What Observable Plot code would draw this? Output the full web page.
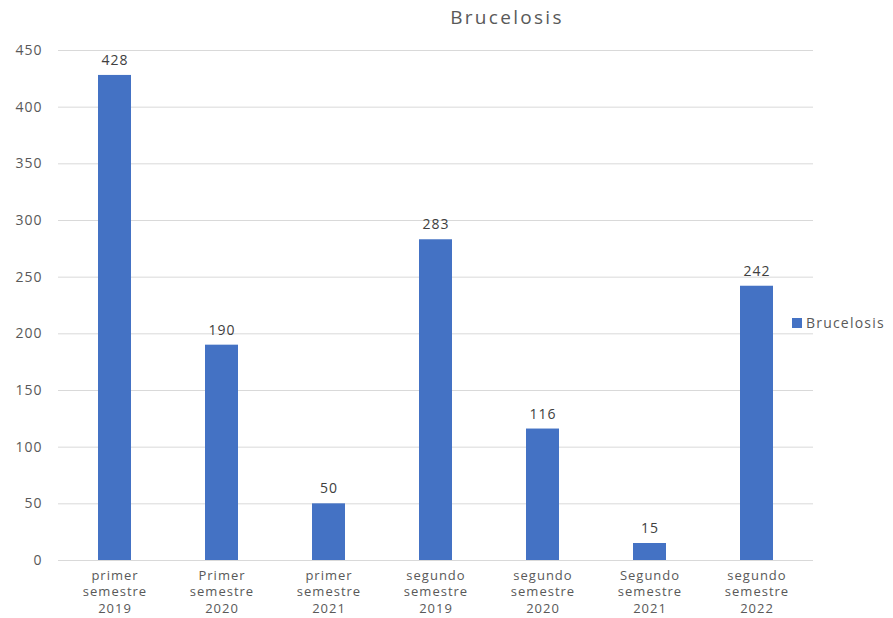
<!DOCTYPE html>
<html>
<head>
<meta charset="utf-8">
<script src="https://cdn.jsdelivr.net/npm/d3@7"></script>
<script src="https://cdn.jsdelivr.net/npm/@observablehq/plot@0.6"></script>
<style>
  html, body { margin: 0; padding: 0; background: #fff; }
  #wrap { position: relative; width: 893px; height: 618px; font-family: "Open Sans", sans-serif; }
  #title { position: absolute; left: 0; top: 4px; width: 1014px; text-align: center; font-size: 19px; color: #595959; letter-spacing: 2.3px; }
  #legend { position: absolute; left: 792px; top: 313px; font-size: 14px; color: #595959; display: flex; align-items: center; letter-spacing: 1.2px; }
  #legend span.sw { display: inline-block; width: 10px; height: 10px; background: #4472c4; margin-right: 4px; }
  #chart { position: absolute; left: 0; top: 36px; }
</style>
</head>
<body>
<div id="wrap">
  <div id="title">Brucelosis</div>
  <div id="chart"></div>
  <div id="legend"><span class="sw"></span>Brucelosis</div>
</div>
<script>
const categories = [
  "primer\nsemestre\n2019",
  "Primer\nsemestre\n2020",
  "primer\nsemestre\n2021",
  "segundo\nsemestre\n2019",
  "segundo\nsemestre\n2020",
  "Segundo\nsemestre\n2021",
  "segundo\nsemestre\n2022"
];
const values = [428, 190, 50, 283, 116, 15, 242];
const yTicks = [0, 50, 100, 150, 200, 250, 300, 350, 400, 450];

const data = categories.map((c, i) => ({category: c, value: values[i]}));

const chart = Plot.plot({
  width: 893,
  height: 582,
  marginLeft: 58,
  marginRight: 80,
  marginTop: 14,
  marginBottom: 58,
  style: {fontFamily: "Open Sans, sans-serif", fontSize: "14px", color: "#595959", letterSpacing: "1px"},
  x: {domain: categories, paddingInner: 0.69, paddingOuter: 0.345, label: null},
  y: {domain: [0, 450], label: null},
  marks: [
    Plot.gridY(yTicks, {stroke: "#d9d9d9", strokeOpacity: 1}),
    Plot.axisY(yTicks, {tickSize: 0, tickPadding: 16, label: null, fill: "#595959"}),
    Plot.axisX({tickSize: 0, tickPadding: 7, lineHeight: 1.3, fontSize: 13, label: null, fill: "#595959", style: {letterSpacing: "1.3px"}}),
    Plot.barY(data, {x: "category", y: "value", fill: "#4472c4"}),
    Plot.ruleY([0], {stroke: "#d9d9d9"}),
    Plot.text(data, {x: "category", y: "value", text: d => String(d.value), dy: -15, fill: "#404040"})
  ]
});
document.getElementById("chart").appendChild(chart);
</script>
</body>
</html>
